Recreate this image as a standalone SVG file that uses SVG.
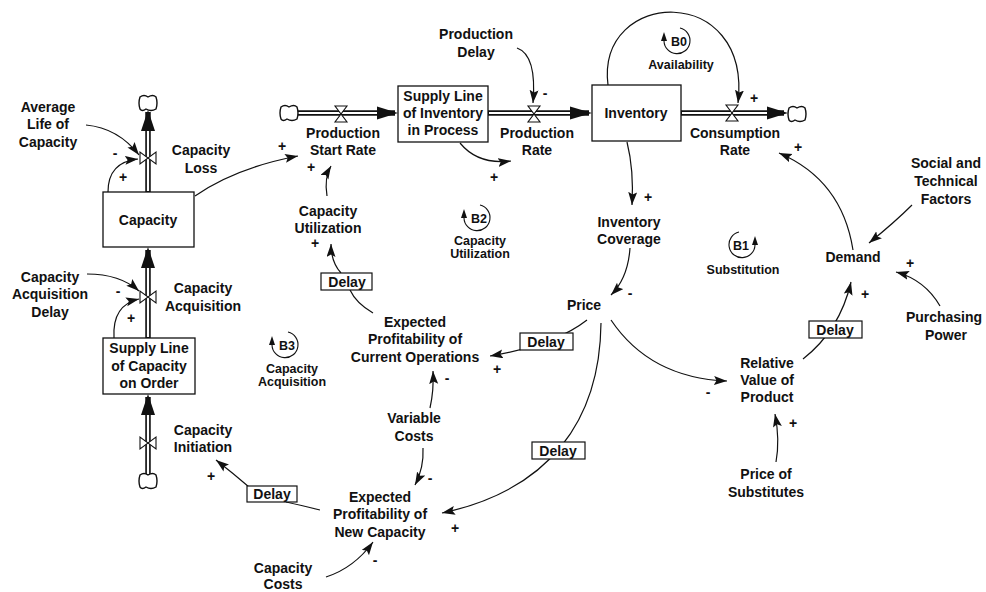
<svg xmlns="http://www.w3.org/2000/svg" width="986" height="592" viewBox="0 0 986 592">
<style>
text{font-family:"Liberation Sans",Arial,Helvetica,sans-serif;font-weight:bold;fill:#111;text-anchor:middle}
.t{font-size:14px}
.s{font-size:12.5px}
.g{font-size:14px}
.box{fill:#fff;stroke:#111;stroke-width:1.3}
.dl{fill:#fff;stroke:#111;stroke-width:1.2}
.lk{fill:none;stroke:#111;stroke-width:1.2}
.ar{fill:none;stroke:#111;stroke-width:1.2;marker-end:url(#ah)}
.po{stroke:#111;stroke-width:5.5}
.pi{stroke:#fff;stroke-width:2.2}
.vl{fill:#fff;stroke:#111;stroke-width:1.1}
.cl{fill:#fff;stroke:#111;stroke-width:1.4}
.pa{fill:#111}
.lp{fill:none;stroke:#111;stroke-width:1.1}
</style>
<defs>
<marker id="ah" markerUnits="userSpaceOnUse" markerWidth="14" markerHeight="10" refX="13" refY="4.5" orient="auto">
<path d="M0,0 L13,4.5 L0,9 L2.5,4.5 Z" fill="#111"/>
</marker>
<path id="cloud" d="M-8,-6 Q-4,-9 0,-6 Q5,-9 8,-6 Q10,0 8,6 Q3,9 -2,6 Q-6,9 -8,6 Q-10,0 -8,-6 Z"/>
<path id="vh" d="M-6,-8 L6,-8 L-6,8 L6,8 Z"/>
<path id="vv" d="M-8,-6 L-8,6 L8,-6 L8,6 Z"/>
</defs>
<rect width="986" height="592" fill="#fff"/>

<g id="flows">
<line class="po" x1="148" y1="192" x2="148" y2="112"/>
<line class="pi" x1="148" y1="191" x2="148" y2="128"/>
<polygon class="pa" points="148,110 141,131 155,131"/>
<use href="#cloud" class="cl" x="148" y="103"/>
<use href="#vv" class="vl" x="148" y="158"/>
<line class="po" x1="148" y1="338" x2="148" y2="250"/>
<line class="pi" x1="148" y1="337" x2="148" y2="264"/>
<polygon class="pa" points="148,247 141,268 155,268"/>
<use href="#vv" class="vl" x="148" y="297"/>
<line class="po" x1="148" y1="475" x2="148" y2="397"/>
<line class="pi" x1="148" y1="474" x2="148" y2="411"/>
<polygon class="pa" points="148,394 141,415 155,415"/>
<use href="#cloud" class="cl" x="148" y="481"/>
<use href="#vv" class="vl" x="148" y="443"/>
<line class="po" x1="297" y1="113" x2="395" y2="113"/>
<line class="pi" x1="298" y1="113" x2="380" y2="113"/>
<polygon class="pa" points="398,113 377,106.5 377,119.5"/>
<use href="#cloud" class="cl" x="289" y="113"/>
<use href="#vh" class="vl" x="341" y="114"/>
<line class="po" x1="488" y1="113" x2="589" y2="113"/>
<line class="pi" x1="489" y1="113" x2="572" y2="113"/>
<polygon class="pa" points="592,113 570,106.5 570,119.5"/>
<use href="#vh" class="vl" x="534" y="114"/>
<line class="po" x1="681" y1="113" x2="784" y2="113"/>
<line class="pi" x1="682" y1="113" x2="769" y2="113"/>
<polygon class="pa" points="788,113 767,106.5 767,119.5"/>
<use href="#cloud" class="cl" x="797" y="114"/>
<use href="#vh" class="vl" x="732" y="113"/>
</g>

<g id="connectors">
<path class="ar" d="M86,125 Q118,128 139,155"/>
<path class="ar" d="M108,192 Q108,162 138,159"/>
<path class="ar" d="M195,196 Q235,168 298,156"/>
<path class="ar" d="M87,274 Q120,274 139,291"/>
<path class="ar" d="M114,338 Q112,305 139,299"/>
<path class="ar" d="M249,487 Q234,474 216,460"/>
<path class="lk" d="M320,510 Q300,505 286,502"/>
<path class="ar" d="M327,196 Q324,178 331,166"/>
<path class="ar" d="M341,273 Q331,262 331,244"/>
<path class="lk" d="M373,313 Q356,303 350,290"/>
<path class="ar" d="M460,143 Q478,165 511,161"/>
<path class="ar" d="M517,48 Q537,55 533,103"/>
<path class="ar" d="M608,85 C596,-12 752,-18 738,103"/>
<path class="ar" d="M627,142 Q634,170 632,205"/>
<path class="ar" d="M630,248 Q628,278 611,295"/>
<path class="ar" d="M587,320 Q555,345 490,356"/>
<path class="ar" d="M601,323 C600,420 550,490 442,513"/>
<path class="ar" d="M430,408 Q434,390 433,371"/>
<path class="ar" d="M423,448 Q424,468 415,485"/>
<path class="ar" d="M326,577 Q354,568 373,542"/>
<path class="ar" d="M611,320 Q650,378 727,381"/>
<path class="ar" d="M776,462 Q780,440 775,414"/>
<path class="ar" d="M803,359 Q840,330 851,282"/>
<path class="ar" d="M940,306 Q925,280 896,272"/>
<path class="ar" d="M912,205 Q895,222 869,243"/>
<path class="ar" d="M853,250 Q842,180 779,153"/>
</g>

<g id="signs">
<text class="g" x="115" y="158">-</text>
<text class="g" x="123" y="182">+</text>
<text class="g" x="118" y="296">-</text>
<text class="g" x="131" y="323">+</text>
<text class="g" x="211" y="481">+</text>
<text class="g" x="282" y="151">+</text>
<text class="g" x="311" y="172">+</text>
<text class="g" x="315" y="248">+</text>
<text class="g" x="545" y="98">-</text>
<text class="g" x="494" y="182">+</text>
<text class="g" x="754" y="103">+</text>
<text class="g" x="798" y="152">+</text>
<text class="g" x="648" y="202">+</text>
<text class="g" x="630" y="298">-</text>
<text class="g" x="910" y="268">+</text>
<text class="g" x="865" y="299">+</text>
<text class="g" x="708" y="397">-</text>
<text class="g" x="793" y="428">+</text>
<text class="g" x="497" y="374">+</text>
<text class="g" x="447" y="383">-</text>
<text class="g" x="430" y="483">-</text>
<text class="g" x="455" y="533">+</text>
<text class="g" x="375" y="565">-</text>
</g>

<g id="capacity"><rect class="box" x="103" y="192" width="91" height="55"/><text class="t" x="148" y="225">Capacity</text></g>
<g id="supply-line-capacity"><rect class="box" x="103" y="338" width="92" height="56"/><text class="t" x="149" y="353">Supply Line</text><text class="t" x="149" y="371">of Capacity</text><text class="t" x="149" y="388">on Order</text></g>
<g id="supply-line-inventory"><rect class="box" x="398" y="86" width="90" height="56"/><text class="t" x="443" y="101">Supply Line</text><text class="t" x="443" y="118">of Inventory</text><text class="t" x="443" y="135">in Process</text></g>
<g id="inventory"><rect class="box" x="592" y="85" width="89" height="56"/><text class="t" x="636" y="118">Inventory</text></g>

<g id="average-life"><text class="t" x="48" y="112">Average</text><text class="t" x="48" y="129">Life of</text><text class="t" x="48" y="147">Capacity</text></g>
<g id="capacity-loss"><text class="t" x="201" y="155">Capacity</text><text class="t" x="201" y="173">Loss</text></g>
<g id="capacity-acquisition-delay"><text class="t" x="50" y="282">Capacity</text><text class="t" x="50" y="299">Acquisition</text><text class="t" x="50" y="317">Delay</text></g>
<g id="capacity-acquisition"><text class="t" x="203" y="293">Capacity</text><text class="t" x="203" y="311">Acquisition</text></g>
<g id="capacity-initiation"><text class="t" x="203" y="435">Capacity</text><text class="t" x="203" y="452">Initiation</text></g>
<g id="delay-initiation"><rect class="dl" x="247" y="486" width="50" height="16"/><text class="t" x="272" y="499">Delay</text></g>
<g id="capacity-costs"><text class="t" x="283" y="573">Capacity</text><text class="t" x="283" y="589">Costs</text></g>
<g id="production-start-rate"><text class="t" x="343" y="138">Production</text><text class="t" x="343" y="155">Start Rate</text></g>
<g id="capacity-utilization"><text class="t" x="328" y="216">Capacity</text><text class="t" x="328" y="233">Utilization</text></g>
<g id="delay-utilization"><rect class="dl" x="321" y="273" width="51" height="17"/><text class="t" x="347" y="287">Delay</text></g>
<g id="production-delay"><text class="t" x="476" y="39">Production</text><text class="t" x="476" y="57">Delay</text></g>
<g id="production-rate"><text class="t" x="537" y="138">Production</text><text class="t" x="537" y="155">Rate</text></g>
<g id="consumption-rate"><text class="t" x="735" y="138">Consumption</text><text class="t" x="735" y="155">Rate</text></g>
<g id="inventory-coverage"><text class="t" x="629" y="227">Inventory</text><text class="t" x="629" y="244">Coverage</text></g>
<g id="price"><text class="t" x="584" y="310">Price</text></g>
<g id="social"><text class="t" x="946" y="168">Social and</text><text class="t" x="946" y="186">Technical</text><text class="t" x="946" y="204">Factors</text></g>
<g id="demand"><text class="t" x="853" y="262">Demand</text></g>
<g id="purchasing-power"><text class="t" x="944" y="322">Purchasing</text><text class="t" x="946" y="340">Power</text></g>
<g id="delay-demand"><rect class="dl" x="809" y="321" width="53" height="17"/><text class="t" x="835" y="335">Delay</text></g>
<g id="relative-value"><text class="t" x="767" y="368">Relative</text><text class="t" x="767" y="385">Value of</text><text class="t" x="767" y="402">Product</text></g>
<g id="price-of-substitutes"><text class="t" x="766" y="479">Price of</text><text class="t" x="766" y="497">Substitutes</text></g>
<g id="expected-current"><text class="t" x="415" y="327">Expected</text><text class="t" x="415" y="344">Profitability of</text><text class="t" x="415" y="362">Current Operations</text></g>
<g id="delay-current"><rect class="dl" x="520" y="333" width="53" height="17"/><text class="t" x="546" y="347">Delay</text></g>
<g id="variable-costs"><text class="t" x="414" y="423">Variable</text><text class="t" x="414" y="441">Costs</text></g>
<g id="delay-new"><rect class="dl" x="532" y="442" width="53" height="17"/><text class="t" x="558" y="456">Delay</text></g>
<g id="expected-new"><text class="t" x="380" y="502">Expected</text><text class="t" x="380" y="519">Profitability of</text><text class="t" x="380" y="537">New Capacity</text></g>

<g id="loop-b0"><path class="lp" d="M680,28 A13,13 0 1 1 664,41"/><polygon class="pa" points="664,32 661,41 667,41"/><text class="s" x="679" y="46">B0</text><text class="s" x="681" y="69">Availability</text></g>
<g id="loop-b1"><path class="lp" d="M739,232 A13,13 0 1 0 755,245"/><polygon class="pa" points="755,236 752,245 758,245"/><text class="s" x="741" y="250">B1</text><text class="s" x="743" y="274">Substitution</text></g>
<g id="loop-b2"><path class="lp" d="M480,205 A13,13 0 1 1 464,218"/><polygon class="pa" points="464,209 461,218 467,218"/><text class="s" x="479" y="223">B2</text><text class="s" x="480" y="245">Capacity</text><text class="s" x="480" y="258">Utilization</text></g>
<g id="loop-b3"><path class="lp" d="M288,332 A13,13 0 1 1 272,345"/><polygon class="pa" points="272,336 269,345 275,345"/><text class="s" x="287" y="350">B3</text><text class="s" x="292" y="373">Capacity</text><text class="s" x="292" y="386">Acquisition</text></g>
</svg>
